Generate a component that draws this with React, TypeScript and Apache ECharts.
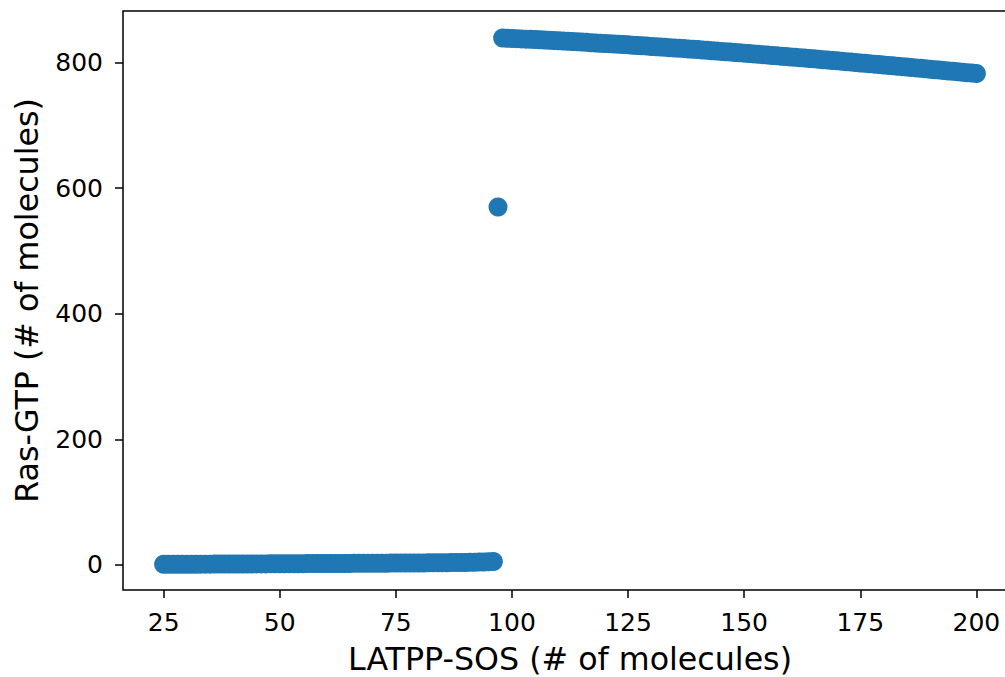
import React, { useEffect, useRef } from "react";
import * as echarts from "echarts";

// LATPP-SOS (# of molecules) for the low-Ras-GTP branch
const lowerX = [
  25, 26, 27, 28, 29, 30, 31, 32, 33, 34,
  35, 36, 37, 38, 39, 40, 41, 42, 43, 44,
  45, 46, 47, 48, 49, 50, 51, 52, 53, 54,
  55, 56, 57, 58, 59, 60, 61, 62, 63, 64,
  65, 66, 67, 68, 69, 70, 71, 72, 73, 74,
  75, 76, 77, 78, 79, 80, 81, 82, 83, 84,
  85, 86, 87, 88, 89, 90, 91, 92, 93, 94,
  95, 96,
];
const lowerY = [
  0.9, 0.9, 1.0, 1.0, 1.0, 1.1, 1.1, 1.1, 1.2, 1.2,
  1.2, 1.3, 1.3, 1.3, 1.4, 1.4, 1.4, 1.5, 1.5, 1.5,
  1.6, 1.6, 1.6, 1.7, 1.7, 1.7, 1.8, 1.8, 1.8, 1.9,
  1.9, 2.0, 2.0, 2.0, 2.1, 2.1, 2.2, 2.2, 2.2, 2.3,
  2.3, 2.4, 2.4, 2.5, 2.5, 2.6, 2.6, 2.7, 2.7, 2.8,
  2.8, 2.9, 2.9, 3.0, 3.0, 3.1, 3.1, 3.2, 3.3, 3.3,
  3.4, 3.5, 3.6, 3.7, 3.8, 3.9, 4.0, 4.2, 4.4, 4.6,
  4.9, 5.3,
];

// The single intermediate point
const midX = [97];
const midY = [570];

// High-Ras-GTP branch
const upperX = [
  98, 99, 100, 101, 102, 103, 104, 105, 106, 107,
  108, 109, 110, 111, 112, 113, 114, 115, 116, 117,
  118, 119, 120, 121, 122, 123, 124, 125, 126, 127,
  128, 129, 130, 131, 132, 133, 134, 135, 136, 137,
  138, 139, 140, 141, 142, 143, 144, 145, 146, 147,
  148, 149, 150, 151, 152, 153, 154, 155, 156, 157,
  158, 159, 160, 161, 162, 163, 164, 165, 166, 167,
  168, 169, 170, 171, 172, 173, 174, 175, 176, 177,
  178, 179, 180, 181, 182, 183, 184, 185, 186, 187,
  188, 189, 190, 191, 192, 193, 194, 195, 196, 197,
  198, 199, 200,
];
const upperY = [
  839.0, 838.7, 838.3, 838.0, 837.6, 837.2, 836.9, 836.5, 836.1, 835.7,
  835.3, 834.9, 834.5, 834.1, 833.7, 833.3, 832.9, 832.5, 832.1, 831.6,
  831.2, 830.8, 830.3, 829.9, 829.4, 829.0, 828.5, 828.1, 827.6, 827.1,
  826.6, 826.1, 825.6, 825.1, 824.6, 824.1, 823.6, 823.1, 822.6, 822.1,
  821.5, 821.0, 820.5, 819.9, 819.4, 818.8, 818.3, 817.7, 817.2, 816.6,
  816.0, 815.5, 814.9, 814.3, 813.7, 813.1, 812.5, 811.9, 811.3, 810.7,
  810.1, 809.5, 808.9, 808.3, 807.6, 807.0, 806.4, 805.8, 805.1, 804.5,
  803.9, 803.2, 802.6, 801.9, 801.3, 800.6, 800.0, 799.3, 798.7, 798.0,
  797.4, 796.7, 796.0, 795.4, 794.7, 794.0, 793.4, 792.7, 792.0, 791.4,
  790.7, 790.0, 789.3, 788.6, 788.0, 787.3, 786.6, 785.9, 785.2, 784.5,
  783.8, 783.1, 782.4,
];

const xTicks = [25, 50, 75, 100, 125, 150, 175, 200];
const yTicks = [0, 200, 400, 600, 800];

const xLabel = "LATPP-SOS (# of molecules)";
const yLabel = "Ras-GTP (# of molecules)";

export default function App() {
  const ref = useRef<HTMLDivElement>(null);

  useEffect(() => {
    if (!ref.current) return;
    const chart = echarts.init(ref.current, null, { renderer: "svg" });
    const pts: number[][] = [];
    lowerX.forEach((x, i) => pts.push([x, lowerY[i]]));
    midX.forEach((x, i) => pts.push([x, midY[i]]));
    upperX.forEach((x, i) => pts.push([x, upperY[i]]));

    const font = "DejaVu Sans";
    chart.setOption({
      animation: false,
      backgroundColor: "#ffffff",
      grid: {
        left: 123,
        top: 11,
        right: -12,
        bottom: 87,
        containLabel: false,
        outerBoundsMode: "none",
        show: true,
        borderColor: "#000000",
        borderWidth: 1.5,
        backgroundColor: "transparent",
      },
      xAxis: {
        type: "value",
        min: 16.25,
        max: 208.75,
        name: xLabel,
        nameLocation: "middle",
        nameGap: 53,
        nameTextStyle: { fontFamily: font, fontSize: 31.7, color: "#000" },
        axisLine: { show: false, onZero: false },
        splitLine: { show: false },
        axisTick: {
          show: true,
          inside: false,
          length: 8,
          customValues: xTicks,
          lineStyle: { color: "#000", width: 1.5 },
        },
        axisLabel: {
          customValues: xTicks,
          margin: 20,
          fontFamily: font,
          fontSize: 25,
          color: "#000",
        },
      },
      yAxis: {
        type: "value",
        min: -40,
        max: 882,
        name: yLabel,
        nameLocation: "middle",
        nameGap: 96,
        nameTextStyle: { fontFamily: font, fontSize: 31.7, color: "#000", verticalAlign: "middle" },
        axisLine: { show: false, onZero: false },
        splitLine: { show: false },
        axisTick: {
          show: true,
          inside: false,
          length: 8,
          customValues: yTicks,
          lineStyle: { color: "#000", width: 1.5 },
        },
        axisLabel: {
          customValues: yTicks,
          margin: 20,
          fontFamily: font,
          fontSize: 25,
          color: "#000",
        },
      },
      series: [
        {
          type: "scatter",
          data: pts,
          symbol: "circle",
          symbolSize: 19,
          itemStyle: { color: "#1f77b4", opacity: 1 },
          emphasis: { disabled: true },
        },
      ],
    });
    return () => chart.dispose();
  }, []);

  return (
    <div
      ref={ref}
      style={{ position: "absolute", left: 0, top: 0, width: 1005, height: 677, background: "#fff" }}
    />
  );
}
